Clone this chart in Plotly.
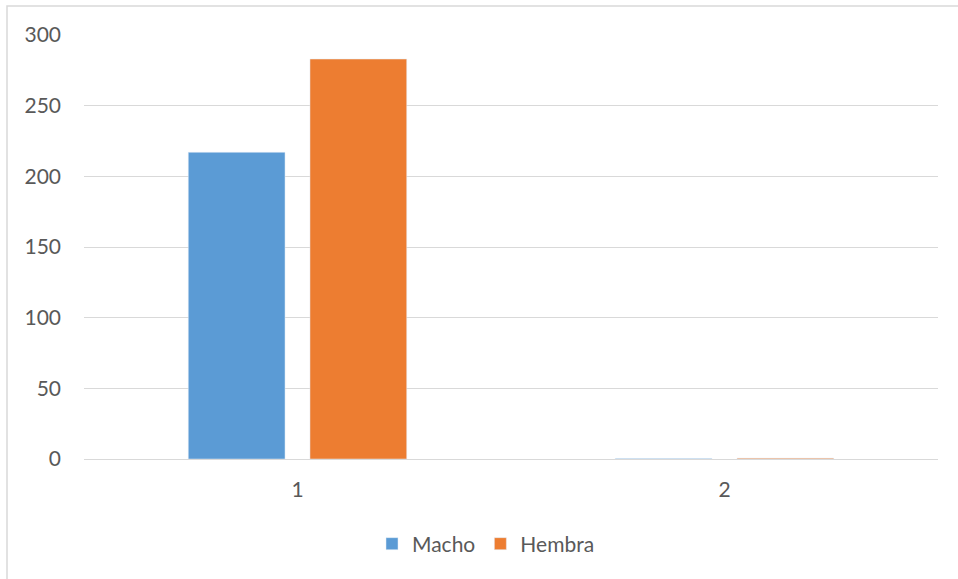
import plotly.graph_objects as go

categories = ["1", "2"]
macho = [217, 0.4]
hembra = [283, 0.6]
y_ticks = [0, 50, 100, 150, 200, 250, 300]

W, H = 958, 579
L, R, T, B = 84, 20, 35, 120
pw, ph = W - L - R, H - T - B

def px_x(p):
    return (p - L) / pw

def px_y(p):
    return (H - B - p) / ph

fig = go.Figure()
fig.add_trace(go.Bar(name="Macho", x=categories, y=macho, marker_color="#5b9bd5"))
fig.add_trace(go.Bar(name="Hembra", x=categories, y=hembra, marker_color="#ed7d31"))

font = dict(family="Lato, Open Sans, sans-serif", size=21, color="#595959")

fig.update_layout(
    width=W, height=H,
    margin=dict(l=L, r=R, t=T, b=B),
    paper_bgcolor="white", plot_bgcolor="white",
    barmode="group", bargap=0.43, bargroupgap=0.205,
    font=font,
    showlegend=True,
    legend=dict(orientation="h", x=px_x(486), y=px_y(544), xanchor="center", yanchor="middle",
                font=font, itemwidth=30, traceorder="normal"),
    xaxis=dict(type="category", showgrid=False, showline=True, linecolor="#d9d9d9", linewidth=1,
               ticks="", tickfont=font, ticklabelstandoff=12),
    yaxis=dict(range=[0, 300], tickvals=y_ticks, showgrid=True, gridcolor="#d9d9d9", gridwidth=1,
               zeroline=False, showline=False, ticks="", tickfont=font, ticklabelstandoff=22),
    shapes=[dict(type="rect", xref="paper", yref="paper",
                 x0=px_x(7), x1=px_x(962), y0=px_y(590), y1=px_y(6),
                 line=dict(color="#d9d9d9", width=1.5), fillcolor="rgba(0,0,0,0)", layer="below")],
)

fig.write_html("out.html")
